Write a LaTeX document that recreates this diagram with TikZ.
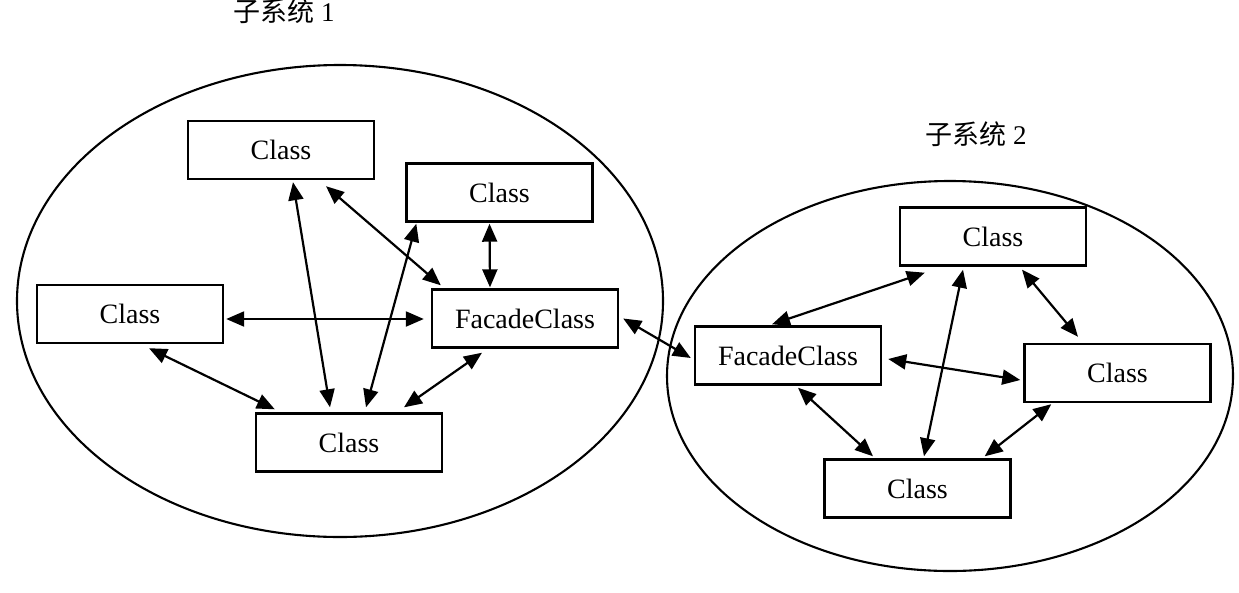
\documentclass[tikz,border=0pt]{standalone}
\usepackage{fontspec}
\setmainfont{Liberation Serif}
\newfontfamily\cjk{Noto Sans CJK SC}
\usetikzlibrary{arrows.meta}
\begin{document}
\begin{tikzpicture}[x=1pt,y=-1pt,
  classbox/.style={draw,line width=2.4pt,rectangle,minimum width=186pt,minimum height=58pt,inner sep=0pt,font=\fontsize{28}{32}\selectfont},
  link/.style={line width=2.2pt,{Triangle[length=18pt,width=15pt]}-{Triangle[length=18pt,width=15pt]}},
  titletext/.style={font=\fontsize{27}{30}\selectfont,inner sep=0pt}]
\useasboundingbox[fill=white] (0,0) rectangle (1239,592);
% subsystem outlines
\draw[line width=2.1pt] (340,301) ellipse [x radius=323pt, y radius=236pt];
\draw[line width=2.1pt] (950,376) ellipse [x radius=283pt, y radius=195pt];
% titles
\node[titletext] (t1) at (284,11) {{\cjk 子系统} 1};
\node[titletext] (t2) at (976,134) {{\cjk 子系统} 2};
% subsystem 1
\node[classbox] (A)  at (281,150)   {Class};
\node[classbox] (B)  at (499.5,192.5) {Class};
\node[classbox] (L)  at (130,314)   {Class};
\node[classbox] (F1) at (525,318.5) {FacadeClass};
\node[classbox] (Bot) at (349,442.5) {Class};
% subsystem 2
\node[classbox] (T)  at (993,236.5) {Class};
\node[classbox] (F2) at (788,355.5) {FacadeClass};
\node[classbox] (R)  at (1117.5,373) {Class};
\node[classbox] (B2) at (917.5,488.5) {Class};
% connectors subsystem 1
\draw[link] ([xshift=12pt,yshift=-2pt]A.south) -- ([xshift=-19pt,yshift=5pt]Bot.north);
\draw[link] ([xshift=45pt,yshift=-6pt]A.south) -- ([xshift=10pt,yshift=3pt]F1.north west);
\draw[link] ([xshift=11pt,yshift=-1pt]B.south west) -- ([xshift=17pt,yshift=5pt]Bot.north);
\draw[link] ([xshift=-10pt,yshift=-1pt]B.south) -- ([xshift=-35pt,yshift=1pt]F1.north);
\draw[link] ([xshift=2pt,yshift=-5pt]L.east) -- ([xshift=-7pt,yshift=-0.5pt]F1.west);
\draw[link] ([xshift=19pt,yshift=-4pt]L.south) -- ([xshift=20pt,yshift=3pt]Bot.north west);
\draw[link] ([xshift=-43pt,yshift=-4pt]F1.south) -- ([xshift=55pt,yshift=5pt]Bot.north);
% between facades
\draw[link] ([xshift=4pt]F1.east) -- ([xshift=-3pt,yshift=-2.5pt]F2.west);
% connectors subsystem 2
\draw[link] ([xshift=26pt,yshift=-6pt]T.south west) -- ([xshift=-16pt,yshift=1pt]F2.north);
\draw[link] ([xshift=-30pt,yshift=-3pt]T.south) -- ([xshift=6.5pt,yshift=2pt]B2.north);
\draw[link] ([xshift=29pt,yshift=-3pt]T.south) -- ([xshift=-39.5pt,yshift=6pt]R.north);
\draw[link] ([xshift=6pt,yshift=-3.5pt]F2.east) -- ([xshift=-3pt,yshift=-7pt]R.west);
\draw[link] ([xshift=10pt,yshift=-2pt]F2.south) -- ([xshift=-44.5pt,yshift=2pt]B2.north);
\draw[link] ([xshift=28pt,yshift=-1pt]R.south west) -- ([xshift=-27pt,yshift=2pt]B2.north east);
\end{tikzpicture}
\end{document}
